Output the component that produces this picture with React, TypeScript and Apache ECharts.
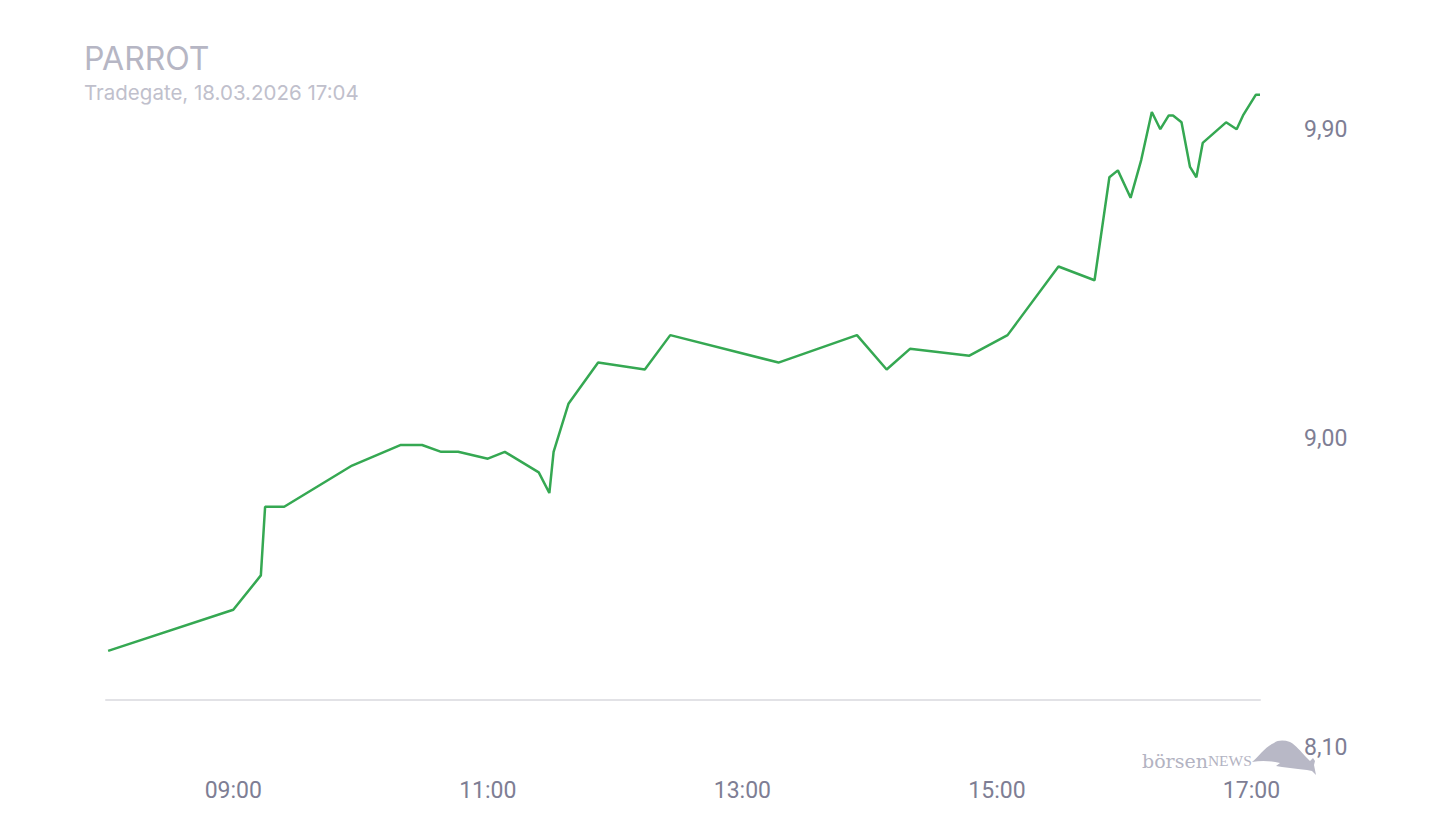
import React, { useEffect, useRef } from "react";
import * as echarts from "echarts";

const times = [
  "08:01", "09:00", "09:13", "09:15", "09:24", "09:56", "10:19", "10:29", "10:38", "10:46",
  "11:00", "11:08", "11:24", "11:29", "11:31", "11:38", "11:52", "12:14", "12:26", "13:17",
  "13:54", "14:08", "14:19", "14:47", "15:05", "15:29", "15:46", "15:53", "15:57", "16:03",
  "16:08", "16:13", "16:17", "16:21", "16:23", "16:27", "16:31", "16:34", "16:37", "16:48",
  "16:53", "16:56", "17:02", "17:04",
];
const prices = [
  8.38, 8.5, 8.6, 8.8, 8.8, 8.92, 8.98, 8.98, 8.96, 8.96,
  8.94, 8.96, 8.9, 8.84, 8.96, 9.1, 9.22, 9.2, 9.3, 9.22,
  9.3, 9.2, 9.26, 9.24, 9.3, 9.5, 9.46, 9.76, 9.78, 9.7,
  9.81, 9.95, 9.9, 9.94, 9.94, 9.92, 9.79, 9.76, 9.86, 9.92,
  9.9, 9.94, 10.0, 10.0,
];
const yTicks = [8.1, 9.0, 9.9];
const xLabelHours = [9, 11, 13, 15, 17];
const titleText = "PARROT";
const subText = "Tradegate, 18.03.2026 17:04";

const BULL =
  "M0 22 C6 17 14 6 22 3 C26 0 32 0 38 2 C44 5 49 12 53 16 L58 21 L61 18 L63 21 L62 25 L64 35 L60 31 L55 30 L46 29 L38 28 L30 27 L24 26 L28 23 C20 21 10 20 0 22 Z";

let registered = false;

const toMin = (t: string) => {
  const [h, m] = t.split(":").map(Number);
  return h * 60 + m;
};
const pad = (n: number) => (n < 10 ? "0" + n : "" + n);

export default function App() {
  const ref = useRef<HTMLDivElement>(null);
  useEffect(() => {
    if (!ref.current) return;
    if (!registered) {
      echarts.graphic.registerShape("bull", echarts.graphic.extendPath(BULL, {}));
      registered = true;
    }
    const chart = echarts.init(ref.current, null, { renderer: "svg" });
    const data = times.map((t, i) => [toMin(t), prices[i]]);
    chart.setOption({
      animation: false,
      backgroundColor: "#ffffff",
      grid: { left: 106, right: 180, top: 88, bottom: 93 },
      xAxis: {
        type: "value",
        min: 480,
        max: 1024,
        interval: 60,
        offset: -47,
        axisLine: { show: true, lineStyle: { color: "#e2e2e6", width: 2 } },
        axisTick: { show: false },
        splitLine: { show: false },
        axisLabel: {
          margin: 79,
          showMaxLabel: false,
          showMinLabel: true,
          color: "#7e7e94",
          fontSize: 23,
          fontFamily: "Roboto",
          formatter: (v: number) => {
            const h = Math.round(v / 60);
            if (v % 60 === 0 && xLabelHours.indexOf(h) >= 0) return pad(h) + ":00";
            return "";
          },
        },
      },
      yAxis: {
        type: "value",
        position: "right",
        min: 8.1,
        max: 10.02,
        interval: 0.9,
        axisLine: { show: false },
        axisTick: { show: false },
        splitLine: { show: false },
        axisLabel: {
          margin: 44,
          showMaxLabel: false,
          color: "#7e7e94",
          fontSize: 23,
          fontFamily: "Roboto",
          formatter: (v: number) => {
            const ok = yTicks.some((t) => Math.abs(t - v) < 1e-6);
            return ok ? v.toFixed(2).replace(".", ",") : "";
          },
        },
      },
      series: [
        {
          type: "line",
          data,
          showSymbol: false,
          symbol: "none",
          lineStyle: { color: "#35a852", width: 2.5 },
          itemStyle: { color: "#35a852" },
        },
      ],
      graphic: [
        {
          type: "text",
          left: 84,
          top: 42,
          style: {
            text: titleText,
            font: '400 32px Inter, "Noto Sans", sans-serif',
            fill: "#b6b6c4",
          },
        },
        {
          type: "text",
          left: 84,
          top: 82,
          style: {
            text: subText,
            font: '400 20.5px Inter, "Noto Sans", sans-serif',
            fill: "#c0c0cc",
          },
        },
        {
          type: "text",
          left: 1142,
          top: 751,
          style: {
            text: "{a|börsen}{b|NEWS}",
            fill: "#b3b3c2",
            rich: {
              a: { fontFamily: '"DejaVu Serif", "Liberation Serif", serif', fontSize: 19, fill: "#b3b3c2", fontWeight: 300 },
              b: { fontFamily: '"Liberation Serif", serif', fontSize: 15.5, fill: "#b3b3c2" },
            },
          },
        },
        {
          type: "bull",
          x: 1252,
          y: 740,
          scaleX: 1,
          scaleY: 1,
          style: { fill: "#b8b8c6" },
        },
      ],
    });
    return () => chart.dispose();
  }, []);
  return (
    <div
      ref={ref}
      style={{ position: "fixed", left: 0, top: 0, width: 1440, height: 840 }}
    />
  );
}
